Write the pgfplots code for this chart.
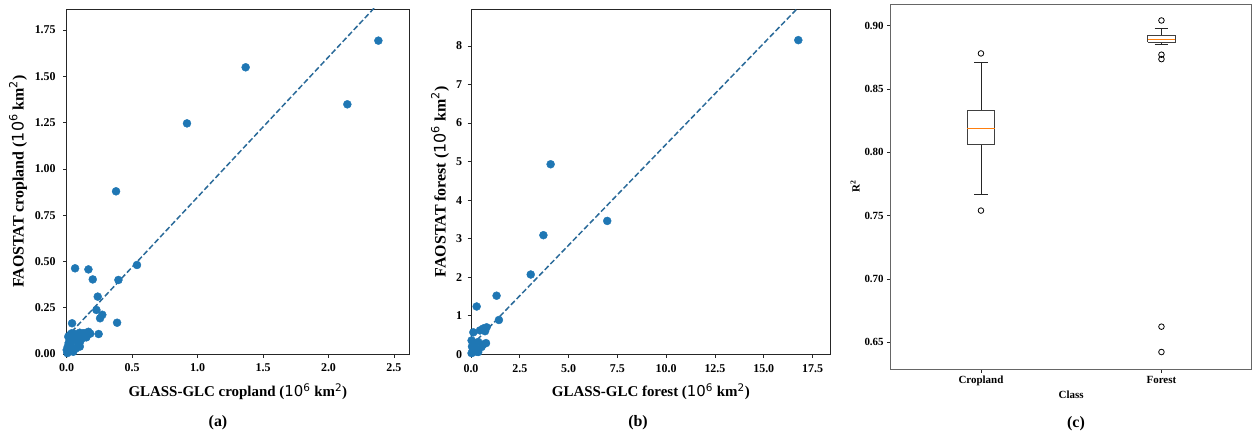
\documentclass[border=0pt]{standalone}
\usepackage{fontspec}
\setmainfont{Liberation Serif}
\newfontfamily\dv{DejaVu Sans}
\usepackage{pgfplots}
\pgfplotsset{compat=1.18}
\definecolor{mplblue}{HTML}{1F77B4}
\definecolor{mplorange}{HTML}{FF7F0E}
\definecolor{lineblue}{HTML}{2A6A99}
\newcommand{\unitlab}{(\mbox{\dv\mdseries 10}\textsuperscript{\dv\mdseries 6} km\textsuperscript{\dv\mdseries 2})}
\pgfplotsset{
  mystyle/.style={
    scale only axis,
    anchor=south west,
    axis line style={black!85, line width=0.8bp},
    tick style={black!85, line width=0.8bp},
    tick align=outside,
    major tick length=3.5bp,
    tick pos=left,
    /pgf/number format/assume math mode=true,
    ticklabel style={font=\fontsize{12}{14}\selectfont\bfseries},
    xlabel style={font=\fontsize{15}{17}\selectfont\bfseries},
    ylabel style={font=\fontsize{16}{18}\selectfont\bfseries},
  },
  scat/.style={only marks, mark=*, mark size=4bp, mark options={draw=mplblue, fill=mplblue}},
  fitline/.style={lineblue, line width=1.5bp, dash pattern=on 5.5bp off 2.6bp},
  boxl/.style={draw=black!75, line width=0.9bp, line join=miter, mark=none},
  whl/.style={draw=black!85, line width=0.9bp, mark=none},
  medl/.style={draw=mplorange, line width=0.9bp, mark=none},
  outl/.style={only marks, mark=o, mark size=2.8bp, mark options={draw=black, line width=0.8bp}},
}
\pgfplotstableread{
x y
2.381 1.693
1.367 1.549
2.144 1.349
0.919 1.246
0.377 0.879
0.537 0.481
0.064 0.463
0.166 0.457
0.199 0.403
0.395 0.400
0.237 0.310
0.227 0.238
0.272 0.212
0.255 0.193
0.041 0.166
0.385 0.169
0.244 0.108
0.166 0.120
0.140 0.112
0.127 0.112
0.100 0.115
0.089 0.103
0.064 0.108
0.038 0.112
0.025 0.103
0.012 0.094
0.063 0.076
0.102 0.066
0.089 0.058
0.025 0.049
0.100 0.040
0.038 0.040
0.050 0.012
0.013 0.013
0.000 0.022
0.005 0.005
0.020 0.030
0.030 0.070
0.070 0.030
0.015 0.060
0.045 0.085
0.150 0.090
0.180 0.110
0.120 0.085
0.008 0.040
}\croptab
\pgfplotstableread{
x y
16.77 8.15
4.08 4.93
6.98 3.46
3.71 3.09
3.06 2.07
1.31 1.52
0.29 1.24
1.43 0.89
0.12 0.57
0.63 0.67
0.80 0.70
0.46 0.62
0.72 0.60
0.03 0.36
0.37 0.32
0.77 0.29
0.54 0.19
0.20 0.15
0.12 0.06
0.37 0.06
0.03 0.03
0.20 0.29
0.29 0.07
0.05 0.20
0.60 0.25
0.10 0.10
}\foresttab
\begin{document}
\begin{tikzpicture}
\path[use as bounding box] (0,0) rectangle (1252bp,437bp);
% (a)
\begin{axis}[mystyle, at={(66.7bp,83bp)}, width=342.3bp, height=345bp,
  xmin=0, xmax=2.615, ymin=0, ymax=1.864,
  xtick={0,0.5,1,1.5,2,2.5}, ytick={0,0.25,0.5,0.75,1,1.25,1.5,1.75},
  xticklabel style={yshift=-3bp, /pgf/number format/fixed, /pgf/number format/fixed zerofill, /pgf/number format/precision=1},
  yticklabel style={xshift=-4bp, /pgf/number format/fixed, /pgf/number format/fixed zerofill, /pgf/number format/precision=2},
  xlabel={GLASS-GLC cropland \unitlab}, ylabel={FAOSTAT cropland \unitlab},
  xlabel style={at={(axis description cs:0.5,-0.1093)}, anchor=center},
  ylabel style={at={(axis description cs:-0.1423,0.5)}, anchor=center},
]
\addplot[scat] table[x=x,y=y] {\croptab};
\addplot[fitline] coordinates {(0.038,0.120) (2.6,2.059)};
\end{axis}
\node[font=\fontsize{16}{18}\selectfont\bfseries] at (218bp,14bp) {(a)};
% (b)
\begin{axis}[mystyle, at={(471bp,82.7bp)}, width=359.7bp, height=345bp,
  xmin=0, xmax=18.43, ymin=0, ymax=8.95,
  xtick={0,2.5,5,7.5,10,12.5,15,17.5}, ytick={0,1,2,3,4,5,6,7,8},
  xticklabel style={yshift=-3bp, /pgf/number format/fixed, /pgf/number format/fixed zerofill, /pgf/number format/precision=1},
  yticklabel style={xshift=-2bp},
  xlabel={GLASS-GLC forest \unitlab}, ylabel={FAOSTAT forest \unitlab},
  xlabel style={at={(axis description cs:0.5,-0.1087)}, anchor=center},
  ylabel style={at={(axis description cs:-0.0862,0.5)}, anchor=center},
]
\addplot[scat] table[x=x,y=y] {\foresttab};
\addplot[fitline] coordinates {(0.03,0.226) (18.4,9.85)};
\end{axis}
\node[font=\fontsize{16}{18}\selectfont\bfseries] at (638bp,14bp) {(b)};
% (c)
\begin{axis}[mystyle, at={(890.7bp,68bp)}, width=361bp, height=365bp,
  axis line style={black!60, line width=0.8bp},
  xmin=0.5, xmax=2.5, ymin=0.629, ymax=0.917,
  xtick={1,2}, xticklabels={Cropland,Forest},
  ytick={0.65,0.7,0.75,0.8,0.85,0.9},
  yticklabel style={/pgf/number format/fixed, /pgf/number format/fixed zerofill, /pgf/number format/precision=2},
  ticklabel style={font=\fontsize{11}{13}\selectfont\bfseries},
  xlabel style={font=\fontsize{11}{13}\selectfont\bfseries},
  ylabel style={font=\fontsize{11}{13}\selectfont\bfseries},
  xlabel={Class}, ylabel={R\textsuperscript{2}},
  xlabel style={at={(axis description cs:0.5,-0.0712)}, anchor=center},
  ylabel style={at={(axis description cs:-0.0989,0.5)}, anchor=center},
]
% Cropland box
\addplot[whl] coordinates {(1,0.833) (1,0.8705)};
\addplot[whl] coordinates {(1,0.806) (1,0.767)};
\addplot[whl] coordinates {(0.9615,0.8705) (1.0385,0.8705)};
\addplot[whl] coordinates {(0.9615,0.767) (1.0385,0.767)};
\addplot[boxl, fill=white] coordinates {(0.923,0.806) (1.077,0.806) (1.077,0.833) (0.923,0.833) (0.923,0.806)};
\addplot[medl] coordinates {(0.923,0.819) (1.077,0.819)};
\addplot[outl] coordinates {(1,0.878) (1,0.754)};
% Forest box
\addplot[whl] coordinates {(2,0.892) (2,0.8977)};
\addplot[whl] coordinates {(2,0.887) (2,0.885)};
\addplot[whl] coordinates {(1.9615,0.8977) (2.0385,0.8977)};
\addplot[whl] coordinates {(1.9615,0.885) (2.0385,0.885)};
\addplot[boxl, fill=white] coordinates {(1.923,0.887) (2.077,0.887) (2.077,0.892) (1.923,0.892) (1.923,0.887)};
\addplot[medl] coordinates {(1.923,0.889) (2.077,0.889)};
\addplot[outl] coordinates {(2,0.904) (2,0.877) (2,0.8735) (2,0.6624) (2,0.6424)};
\end{axis}
\node[font=\fontsize{16}{18}\selectfont\bfseries] at (1076bp,13bp) {(c)};
\end{tikzpicture}
\end{document}
